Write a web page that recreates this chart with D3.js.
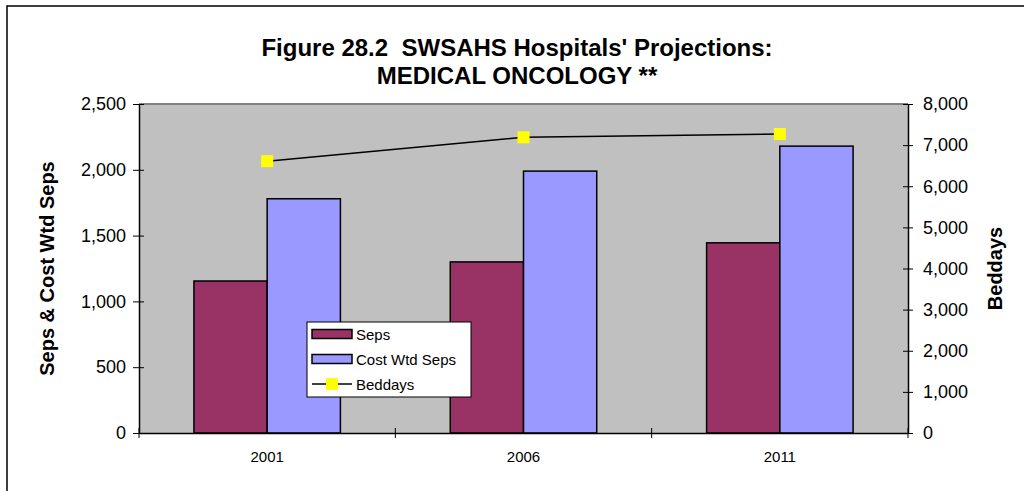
<!DOCTYPE html>
<html>
<head>
<meta charset="utf-8">
<script src="https://cdn.jsdelivr.net/npm/d3@7"></script>
<style>
  body { margin: 0; background: #fff; }
  text { font-family: Arial, "Liberation Sans", sans-serif; }
</style>
</head>
<body>
<script>
let years = ["2001", "2006", "2011"];
let seps = [1155, 1300, 1445];
let costWtdSeps = [1780, 1990, 2180];
let beddays = [6610, 7190, 7270];
let leftTicks = [0, 500, 1000, 1500, 2000, 2500];
let rightTicks = [0, 1000, 2000, 3000, 4000, 5000, 6000, 7000, 8000];
let seriesNames = ["Seps", "Cost Wtd Seps"];
let seriesColors = ["#993366", "#9999ff"];

let width = 1024, height = 491;
let plot = {left: 139, right: 908, top: 104, bottom: 433};

let svg = d3.select("body").append("svg")
	.attr("width", width)
	.attr("height", height);

// outer frame (right/bottom edges run off the page)
svg.append("rect")
	.attr("x", 7).attr("y", 6)
	.attr("width", width + 10).attr("height", height + 10)
	.attr("fill", "#fff")
	.attr("stroke", "#000")
	.attr("stroke-width", 1.5);

let x0 = d3.scaleBand()
	.domain(years)
	.range([plot.left, plot.right])
	.padding(0);

let x1 = d3.scaleBand()
	.domain(seriesNames)
	.range([0, x0.bandwidth()])
	.paddingInner(0)
	.paddingOuter(0.75);

let yL = d3.scaleLinear().domain([0, 2500]).range([plot.bottom, plot.top]);
let yR = d3.scaleLinear().domain([0, 8000]).range([plot.bottom, plot.top]);

// plot background
svg.append("rect")
	.attr("x", plot.left).attr("y", plot.top)
	.attr("width", plot.right - plot.left)
	.attr("height", plot.bottom - plot.top)
	.attr("fill", "#c0c0c0");

svg.append("line")
	.attr("x1", plot.left).attr("x2", plot.right)
	.attr("y1", plot.top).attr("y2", plot.top)
	.attr("stroke", "#808080")
	.attr("stroke-width", 2);

// bars
let rows = years.map((y, i) => ({year: y, values: [seps[i], costWtdSeps[i]]}));

let groups = svg.selectAll(".group")
	.data(rows)
	.enter().append("g")
	.attr("class", "group")
	.attr("transform", d => `translate(${x0(d.year)},0)`);

groups.selectAll("rect")
	.data(d => d.values.map((v, j) => ({name: seriesNames[j], value: v, color: seriesColors[j]})))
	.enter().append("rect")
	.attr("x", d => x1(d.name))
	.attr("y", d => yL(d.value))
	.attr("width", x1.bandwidth())
	.attr("height", d => plot.bottom - yL(d.value))
	.attr("fill", d => d.color)
	.attr("stroke", "#000")
	.attr("stroke-width", 1.5);

// beddays line
let line = d3.line()
	.x((d, i) => x0(years[i]) + x0.bandwidth() / 2)
	.y(d => yR(d));

svg.append("path")
	.datum(beddays)
	.attr("d", line)
	.attr("fill", "none")
	.attr("stroke", "#000")
	.attr("stroke-width", 1.5);

svg.selectAll(".marker")
	.data(beddays)
	.enter().append("rect")
	.attr("class", "marker")
	.attr("x", (d, i) => x0(years[i]) + x0.bandwidth() / 2 - 6)
	.attr("y", d => yR(d) - 6)
	.attr("width", 12).attr("height", 12)
	.attr("fill", "#ffff00");

// axes
let axisLeft = d3.axisLeft(yL)
	.tickValues(leftTicks)
	.tickFormat(d3.format(","))
	.tickSizeInner(6).tickSizeOuter(0).tickPadding(7);

let gl = svg.append("g")
	.attr("transform", `translate(${plot.left},0)`)
	.call(axisLeft);

let axisRight = d3.axisRight(yR)
	.tickValues(rightTicks)
	.tickFormat(d3.format(","))
	.tickSizeInner(5).tickSizeOuter(0).tickPadding(10);

let gr = svg.append("g")
	.attr("transform", `translate(${plot.right},0)`)
	.call(axisRight);

let axisBottom = d3.axisBottom(x0)
	.tickSize(0).tickPadding(18);

let gb = svg.append("g")
	.attr("transform", `translate(0,${plot.bottom})`)
	.call(axisBottom);

[gl, gr, gb].forEach(g => {
	g.select(".domain").attr("stroke", "#000").attr("stroke-width", 1.5);
	g.selectAll(".tick line").attr("stroke", "#000");
	g.selectAll("text").attr("fill", "#000")
		.style("font-family", "Arial, 'Liberation Sans', sans-serif");
});
gl.selectAll("text").style("font-size", "18px");
gr.selectAll("text").style("font-size", "18px");
gb.selectAll("text").style("font-size", "15px");

// cross ticks on left/right axes (inner part)
gl.selectAll(".tick").append("line")
	.attr("x1", 0).attr("x2", 5).attr("stroke", "#000");
gr.selectAll(".tick").append("line")
	.attr("x1", 0).attr("x2", -5).attr("stroke", "#000");

// category boundary ticks on x axis
let bounds = years.map(y => x0(y)).concat([plot.right]);
svg.selectAll(".xtick")
	.data(bounds)
	.enter().append("line")
	.attr("class", "xtick")
	.attr("x1", d => d).attr("x2", d => d)
	.attr("y1", plot.bottom - 5).attr("y2", plot.bottom + 5)
	.attr("stroke", "#000");

// titles
svg.append("text")
	.attr("x", 517).attr("y", 56)
	.attr("text-anchor", "middle")
	.style("font-size", "24px").style("font-weight", "bold")
	.style("white-space", "pre")
	.text("Figure 28.2  SWSAHS Hospitals' Projections:");

svg.append("text")
	.attr("x", 517).attr("y", 84)
	.attr("text-anchor", "middle")
	.style("font-size", "24px").style("font-weight", "bold")
	.text("MEDICAL ONCOLOGY **");

svg.append("text")
	.attr("transform", `translate(54,${(plot.top + plot.bottom) / 2}) rotate(-90)`)
	.attr("text-anchor", "middle")
	.style("font-size", "20px").style("font-weight", "bold")
	.text("Seps & Cost Wtd Seps");

svg.append("text")
	.attr("transform", `translate(1002,${(plot.top + plot.bottom) / 2}) rotate(-90)`)
	.attr("text-anchor", "middle")
	.style("font-size", "20px").style("font-weight", "bold")
	.text("Beddays");

// legend
let legend = svg.append("g").attr("transform", "translate(307,322)");
legend.append("rect")
	.attr("width", 164).attr("height", 75)
	.attr("fill", "#fff").attr("stroke", "#000");

let legendItems = [
	{name: "Seps", type: "bar", color: seriesColors[0]},
	{name: "Cost Wtd Seps", type: "bar", color: seriesColors[1]},
	{name: "Beddays", type: "line", color: "#ffff00"}
];

let li = legend.selectAll(".li")
	.data(legendItems)
	.enter().append("g")
	.attr("transform", (d, i) => `translate(0,${12 + i * 25})`);

li.filter(d => d.type === "bar").append("rect")
	.attr("x", 5).attr("y", -4.5)
	.attr("width", 40).attr("height", 9)
	.attr("fill", d => d.color)
	.attr("stroke", "#000").attr("stroke-width", 1.5);

li.filter(d => d.type === "line").append("line")
	.attr("x1", 5).attr("x2", 45)
	.attr("stroke", "#000").attr("stroke-width", 1.5);

li.filter(d => d.type === "line").append("rect")
	.attr("x", 19).attr("y", -6)
	.attr("width", 12).attr("height", 12)
	.attr("fill", d => d.color);

li.append("text")
	.attr("x", 49).attr("y", 5.5)
	.style("font-size", "15px")
	.text(d => d.name);
</script>
</body>
</html>
